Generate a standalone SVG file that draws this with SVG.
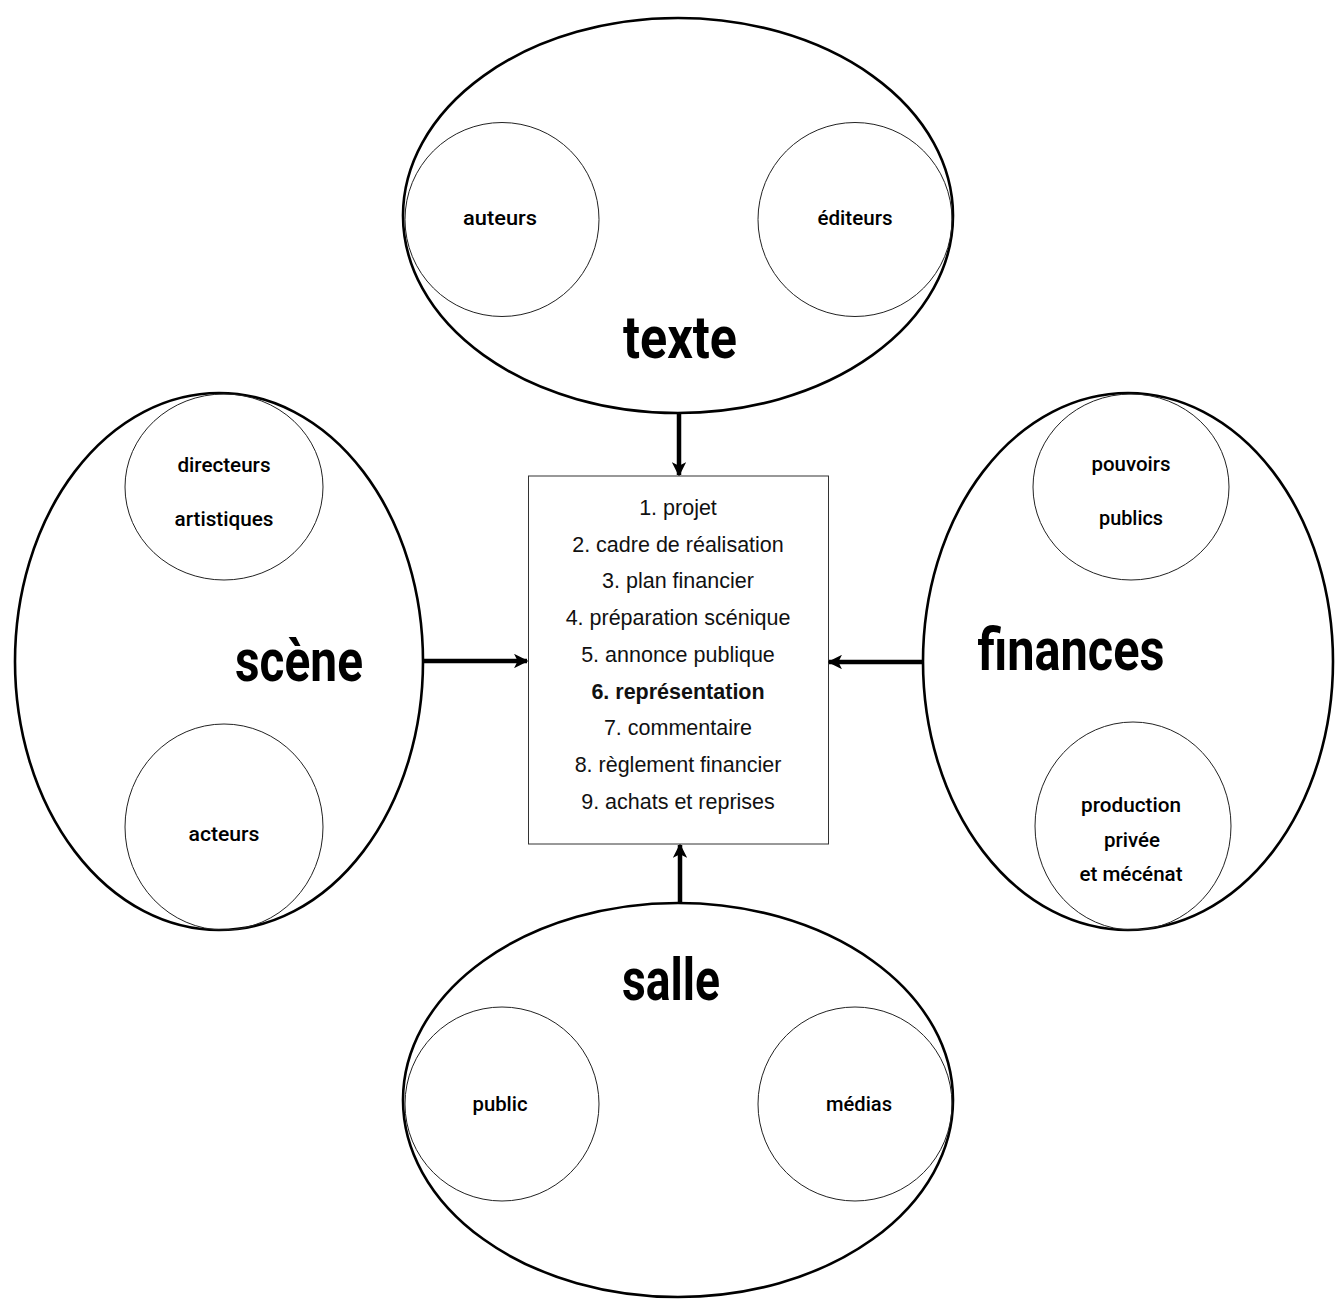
<svg xmlns="http://www.w3.org/2000/svg" width="1335" height="1305" viewBox="0 0 1335 1305">
<style>
.outer{fill:none;stroke:#000;stroke-width:2.6}
.inner{fill:none;stroke:#222;stroke-width:1}
.lbl{font-family:Roboto,"Liberation Sans",sans-serif;font-weight:500;font-size:21px;fill:#000;text-anchor:middle}
.big{font-family:Roboto,"Liberation Sans",sans-serif;font-weight:700;font-size:60px;fill:#000;text-anchor:middle}
.step{font-family:"Liberation Sans",Arial,sans-serif;font-size:21.5px;fill:#111;text-anchor:middle}
.conn{stroke:#000;stroke-width:4.5;fill:none}
</style>
<defs>
<marker id="ah" viewBox="0 0 10 10" refX="9" refY="5" markerWidth="3.2" markerHeight="3.2" orient="auto" markerUnits="strokeWidth">
<path d="M0,0 L10,5 L0,10 L2.5,5 z" fill="#000"/>
</marker>
</defs>
<rect width="1335" height="1305" fill="#fff"/>

<g id="texte">
<ellipse class="outer" cx="678" cy="215.5" rx="275" ry="197.5"/>
<circle class="inner" cx="502" cy="219.5" r="97"/>
<circle class="inner" cx="855" cy="219.5" r="97"/>
<text class="lbl" x="500" y="225" textLength="74" lengthAdjust="spacingAndGlyphs">auteurs</text>
<text class="lbl" x="855" y="225" textLength="75" lengthAdjust="spacingAndGlyphs">éditeurs</text>
<text class="big" x="680" y="358" textLength="114" lengthAdjust="spacingAndGlyphs">texte</text>
</g>

<g id="scene">
<ellipse class="outer" cx="219" cy="661.5" rx="204" ry="268.5"/>
<ellipse class="inner" cx="224" cy="487" rx="99" ry="93"/>
<ellipse class="inner" cx="224" cy="827" rx="99" ry="103"/>
<text class="lbl" x="224" y="472" textLength="93" lengthAdjust="spacingAndGlyphs">directeurs</text>
<text class="lbl" x="224" y="526" textLength="99" lengthAdjust="spacingAndGlyphs">artistiques</text>
<text class="lbl" x="224" y="841" textLength="71" lengthAdjust="spacingAndGlyphs">acteurs</text>
<text class="big" x="299" y="681" textLength="128" lengthAdjust="spacingAndGlyphs">scène</text>
</g>

<g id="finances">
<ellipse class="outer" cx="1128" cy="661.5" rx="205" ry="268.5"/>
<ellipse class="inner" cx="1131" cy="487" rx="98" ry="93"/>
<ellipse class="inner" cx="1133" cy="826" rx="98" ry="104"/>
<text class="lbl" x="1131" y="471" textLength="79" lengthAdjust="spacingAndGlyphs">pouvoirs</text>
<text class="lbl" x="1131" y="525" textLength="64" lengthAdjust="spacingAndGlyphs">publics</text>
<text class="lbl" x="1131" y="812" textLength="100" lengthAdjust="spacingAndGlyphs">production</text>
<text class="lbl" x="1132" y="847" textLength="56" lengthAdjust="spacingAndGlyphs">privée</text>
<text class="lbl" x="1131" y="881" textLength="103" lengthAdjust="spacingAndGlyphs">et mécénat</text>
<text class="big" x="1071" y="670" textLength="187" lengthAdjust="spacingAndGlyphs">finances</text>
</g>

<g id="salle">
<ellipse class="outer" cx="678" cy="1100" rx="275" ry="197"/>
<circle class="inner" cx="502" cy="1104" r="97"/>
<circle class="inner" cx="855" cy="1104" r="97"/>
<text class="lbl" x="500" y="1111" textLength="55" lengthAdjust="spacingAndGlyphs">public</text>
<text class="lbl" x="859" y="1111" textLength="66" lengthAdjust="spacingAndGlyphs">médias</text>
<text class="big" x="671" y="1000" textLength="98" lengthAdjust="spacingAndGlyphs">salle</text>
</g>

<g id="etapes">
<rect x="528.5" y="476" width="300" height="368" fill="none" stroke="#333" stroke-width="1"/>
<text class="step" x="678" y="515">1. projet</text>
<text class="step" x="678" y="552">2. cadre de réalisation</text>
<text class="step" x="678" y="588">3. plan financier</text>
<text class="step" x="678" y="625">4. préparation scénique</text>
<text class="step" x="678" y="662">5. annonce publique</text>
<text class="step" x="678" y="699" font-weight="bold">6. représentation</text>
<text class="step" x="678" y="735">7. commentaire</text>
<text class="step" x="678" y="772">8. règlement financier</text>
<text class="step" x="678" y="809">9. achats et reprises</text>
</g>

<g id="connectors">
<line class="conn" x1="679" y1="413" x2="679" y2="475" marker-end="url(#ah)"/>
<line class="conn" x1="424" y1="661" x2="527" y2="661" marker-end="url(#ah)"/>
<line class="conn" x1="924" y1="662" x2="829" y2="662" marker-end="url(#ah)"/>
<line class="conn" x1="680" y1="903" x2="680" y2="845" marker-end="url(#ah)"/>
</g>
</svg>
